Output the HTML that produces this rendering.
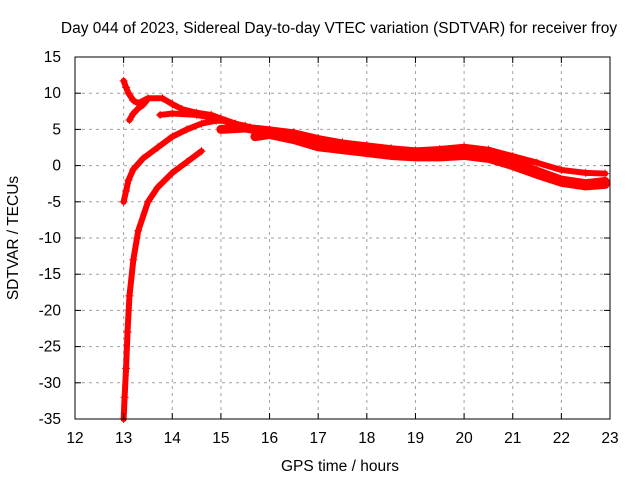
<!DOCTYPE html>
<html><head><meta charset="utf-8"><style>
body{margin:0;background:#fff}
text{font-family:"Liberation Sans",sans-serif;font-size:15.5px;fill:#000}
</style></head><body>
<svg id="chart" width="640" height="480" xmlns="http://www.w3.org/2000/svg">
<rect width="640" height="480" fill="#fff"/>
<text x="339" y="33" text-anchor="middle">Day 044 of 2023, Sidereal Day-to-day VTEC variation (SDTVAR) for receiver froy</text>
<g id="grid"></g><g id="series"></g><g id="axes"></g>
<text x="340" y="471" text-anchor="middle">GPS time / hours</text>
<text transform="translate(18,238) rotate(-90)" text-anchor="middle">SDTVAR / TECUs</text>
</svg>
<script>
const xTicks=[12,13,14,15,16,17,18,19,20,21,22,23];
const yTicks=[15,10,5,0,-5,-10,-15,-20,-25,-30,-35];
const trackAT=[13.0,13.05,13.1,13.2,13.3,13.5,13.8,14.0,14.2,14.5,14.8,15.0,15.3,15.6,16,16.5,17,17.5,18,18.5,19,19.5,20,20.5,21,21.5,22,22.5,22.9];
const trackAV=[11.7,10.8,10,9,8.6,9.3,9.3,8.5,7.8,7.3,7,6.5,5.8,5.3,5,4.6,3.8,3.2,2.8,2.4,2.1,2.3,2.6,2.2,1.3,0.4,-0.6,-1,-1.1];
const trackBT=[13.12,13.2,13.3,13.4,13.5];
const trackBV=[6.3,7.2,7.9,8.4,9.2];
const trackCT=[13.75,14.0,14.5,14.9,15.2,15.5];
const trackCV=[7,7.2,7.0,6.5,5.9,5.5];
const trackDT=[13.0,13.05,13.1,13.2,13.4,13.7,14.0,14.3,14.6,14.9,15.1];
const trackDV=[-5,-3.5,-2,-0.5,1,2.5,4,5,5.8,6.2,6.2];
const trackET=[13.0,13.02,13.05,13.08,13.12,13.2,13.3,13.5,13.7,14.0,14.3,14.6];
const trackEV=[-35,-32,-28,-23,-18,-13,-9,-5,-3,-1,0.5,2];
const trackFT=[15.0,15.5,16,16.5,17,17.5,18,18.5,19,19.5,20,20.5,21,21.5,22,22.5,22.9];
const trackFV=[5,5.2,4.6,4,3,2.5,2.2,1.8,1.5,1.8,2,1.6,0.6,-0.8,-2,-2.5,-2.2];
const trackGT=[15.7,16,16.5,17,17.5,18,18.5,19,19.5,20,20.5,21,21.5,22,22.5,22.9];
const trackGV=[4,4.3,3.6,2.6,2.2,1.8,1.4,1.2,1.2,1.4,1,0,-1.2,-2.3,-2.8,-2.6];
const tracks=[[trackAT,trackAV],[trackBT,trackBV],[trackCT,trackCV],[trackDT,trackDV],[trackET,trackEV],[trackFT,trackFV],[trackGT,trackGV]];
const widths=[6,6,6,6,6,9,9];
const X0=75,X1=610,Y0=57,Y1=419;
const xs=v=>X0+(v-12)/11*(X1-X0);
const ys=v=>Y0+(15-v)/50*(Y1-Y0);
const NS="http://www.w3.org/2000/svg";
function mk(t,a,p){const e=document.createElementNS(NS,t);for(const k in a)e.setAttribute(k,a[k]);p.appendChild(e);return e;}
const grid=document.getElementById('grid'),axes=document.getElementById('axes'),ser=document.getElementById('series');
xTicks.forEach(t=>{const x=xs(t);
 if(t>12&&t<23){const g=mk('line',{x1:x,x2:x,y1:Y0,y2:Y1,stroke:'#a0a0a0','stroke-dasharray':'3,4'},grid);
 
 }
 mk('line',{x1:x,x2:x,y1:Y1,y2:Y1-6,stroke:'#000'},axes);mk('line',{x1:x,x2:x,y1:Y0,y2:Y0+6,stroke:'#000'},axes);
 const l=mk('text',{x:x,y:Y1+24,'text-anchor':'middle'},axes);l.textContent=t;
 
 });
yTicks.forEach(t=>{const y=ys(t);
 if(t<15&&t>-35){const g=mk('line',{x1:X0,x2:X1,y1:y,y2:y,stroke:'#a0a0a0','stroke-dasharray':'3,4'},grid);
 
 }
 mk('line',{x1:X0,x2:X0+6,y1:y,y2:y,stroke:'#000'},axes);mk('line',{x1:X1,x2:X1-6,y1:y,y2:y,stroke:'#000'},axes);
 const l=mk('text',{x:X0-14,y:y+5,'text-anchor':'end'},axes);l.textContent=t;
 
 });
const fr=mk('rect',{x:X0,y:Y0,width:X1-X0,height:Y1-Y0,fill:'none',stroke:'#000'},axes);


tracks.forEach(([T,V],i)=>{
 const pts=T.map((t,j)=>xs(t)+','+ys(V[j])).join(' ');
 const pl=mk('polyline',{points:pts,fill:'none',stroke:'#ff0000','stroke-width':widths[i],'stroke-linejoin':'round','stroke-linecap':'round'},ser);
 
 
 T.forEach((t,j)=>{const x=xs(t),y=ys(V[j]);
  const m=mk('path',{d:`M${x-4},${y}H${x+4}M${x},${y-4}V${y+4}`,stroke:'#ff0000','stroke-width':1},ser);
  
  });
});
</script>
</body></html>
